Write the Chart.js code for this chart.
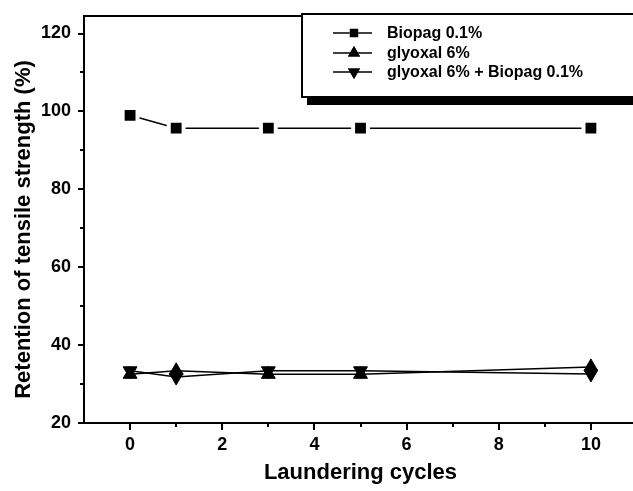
<!DOCTYPE html>
<html><head><meta charset="utf-8">
<script src="https://cdn.jsdelivr.net/npm/chart.js@4.4.0/dist/chart.umd.min.js"></script>
<style>
html,body{margin:0;padding:0;background:#fff;overflow:hidden;width:633px;height:491px}
#wrap{width:637px;height:491px}
canvas{display:block}
</style></head>
<body><div id="wrap"><canvas id="c" width="637" height="491"></canvas></div>
<script>
const cycles = [0, 1, 3, 5, 10];
const biopag = [99, 95.7, 95.7, 95.7, 95.7];
const glyoxal = [32.5, 33.4, 32.5, 32.5, 34.4];
const glyoxalBiopag = [33.4, 31.8, 33.4, 33.4, 32.6];
const seriesLabels = ['Biopag 0.1%', 'glyoxal 6%', 'glyoxal 6% + Biopag 0.1%'];
const xTickValues = [0, 1, 2, 3, 4, 5, 6, 7, 8, 9, 10];
const yTickValues = [20, 30, 40, 50, 60, 70, 80, 90, 100, 110, 120];
const xAxisTitle = 'Laundering cycles';
const yAxisTitle = 'Retention of tensile strength (%)';

const FONT = "'Liberation Sans', Arial, Helvetica, sans-serif";
const toPts = (vals) => cycles.map((c, i) => ({x: c, y: vals[i]}));

const framePlugin = {
  id: 'frameAndLegend',
  afterDraw(chart) {
    const {ctx, chartArea: a, scales: {x, y}} = chart;
    ctx.save();
    ctx.strokeStyle = '#000';
    ctx.lineWidth = 2;
    ctx.strokeRect(a.left, a.top, a.right - a.left, a.bottom - a.top);
    ctx.beginPath();
    xTickValues.forEach(v => {
      const px = Math.round(x.getPixelForValue(v));
      const len = v % 2 === 0 ? 7 : 4;
      ctx.moveTo(px, a.bottom); ctx.lineTo(px, a.bottom + len);
    });
    yTickValues.forEach(v => {
      const py = Math.round(y.getPixelForValue(v));
      const len = v % 20 === 0 ? 6 : 4;
      ctx.moveTo(a.left - len, py); ctx.lineTo(a.left, py);
    });
    ctx.stroke();

    // y-axis title (placed as in the reference, slightly below the axis centre)
    ctx.save();
    ctx.translate(24, (a.top + a.bottom) / 2 + 10);
    ctx.rotate(-Math.PI / 2);
    ctx.fillStyle = '#000';
    ctx.font = 'bold 22px ' + FONT;
    ctx.textAlign = 'center';
    ctx.textBaseline = 'middle';
    ctx.fillText(yAxisTitle, 0, 0);
    ctx.restore();

    // legend box with shadow
    const bx = 302, by = 14, bw = 400, bh = 83;
    ctx.fillStyle = '#000';
    ctx.fillRect(bx + 5, by + bh, bw, 8);
    ctx.fillStyle = '#fff';
    ctx.fillRect(bx, by, bw, bh);
    ctx.lineWidth = 2;
    ctx.strokeRect(bx, by, bw, bh);
    const rows = [33, 53, 72];
    chart.data.datasets.forEach((ds, i) => {
      const ry = rows[i];
      ctx.lineWidth = 1.5;
      ctx.strokeStyle = '#000';
      ctx.beginPath(); ctx.moveTo(333, ry); ctx.lineTo(372, ry); ctx.stroke();
      Chart.helpers.drawPoint(ctx, {
        pointStyle: ds.pointStyle, rotation: ds.pointRotation || 0,
        radius: i === 0 ? 6 : 7, borderWidth: 0
      }, 354, ry);
      ctx.fillStyle = '#000';
      ctx.fill();
      ctx.font = 'bold 16px ' + FONT;
      ctx.textBaseline = 'middle';
      ctx.textAlign = 'left';
      ctx.fillText(ds.label, 387, ry + 1);
    });
    ctx.restore();
  }
};

new Chart(document.getElementById('c'), {
  type: 'line',
  data: {
    datasets: [
      {label: seriesLabels[0], data: toPts(biopag), pointStyle: 'rect', pointRadius: 10.5,
       backgroundColor: '#000', pointBackgroundColor: '#000', pointBorderColor: '#fff', pointBorderWidth: 4,
       borderColor: '#000', borderWidth: 1.5},
      {label: seriesLabels[1], data: toPts(glyoxal), pointStyle: 'triangle', pointRadius: 8,
       backgroundColor: '#000', pointBackgroundColor: '#000', pointBorderColor: '#000', pointBorderWidth: 1,
       borderColor: '#000', borderWidth: 1.5},
      {label: seriesLabels[2], data: toPts(glyoxalBiopag), pointStyle: 'triangle', pointRotation: 180, pointRadius: 8,
       backgroundColor: '#000', pointBackgroundColor: '#000', pointBorderColor: '#000', pointBorderWidth: 1,
       borderColor: '#000', borderWidth: 1.5}
    ]
  },
  options: {
    responsive: false, animation: false, devicePixelRatio: 1,
    layout: {autoPadding: false, padding: {top: 16, left: 0, right: 0, bottom: 0}},
    plugins: {legend: {display: false}, tooltip: {enabled: false}},
    elements: {line: {tension: 0}},
    scales: {
      x: {
        type: 'linear', min: -1, max: 11,
        afterBuildTicks: s => { s.ticks = xTickValues.map(v => ({value: v})); },
        afterFit: s => { s.height = 68; s.paddingLeft = 0; s.paddingRight = 0; },
        grid: {display: false, drawTicks: false},
        border: {display: false},
        ticks: {padding: 11, color: '#000', font: {family: FONT, size: 18, weight: 'bold'},
                maxRotation: 0, autoSkip: false,
                callback: v => (v % 2 === 0 ? String(v) : '')},
        title: {display: true, text: xAxisTitle, color: '#000',
                font: {family: FONT, size: 22, weight: 'bold'}, padding: {top: 0, bottom: 5}}
      },
      y: {
        type: 'linear', min: 20, max: 124.5,
        afterBuildTicks: s => { s.ticks = yTickValues.map(v => ({value: v})); },
        afterFit: s => { s.width = 84; s.paddingTop = 0; s.paddingBottom = 0; },
        grid: {display: false, drawTicks: false},
        border: {display: false},
        ticks: {padding: 13, color: '#000', font: {family: FONT, size: 18, weight: 'bold'},
                autoSkip: false,
                callback: v => (v % 20 === 0 ? String(v) : '')},
        title: {display: false, text: yAxisTitle}
      }
    }
  },
  plugins: [framePlugin]
});
</script>
</body></html>
